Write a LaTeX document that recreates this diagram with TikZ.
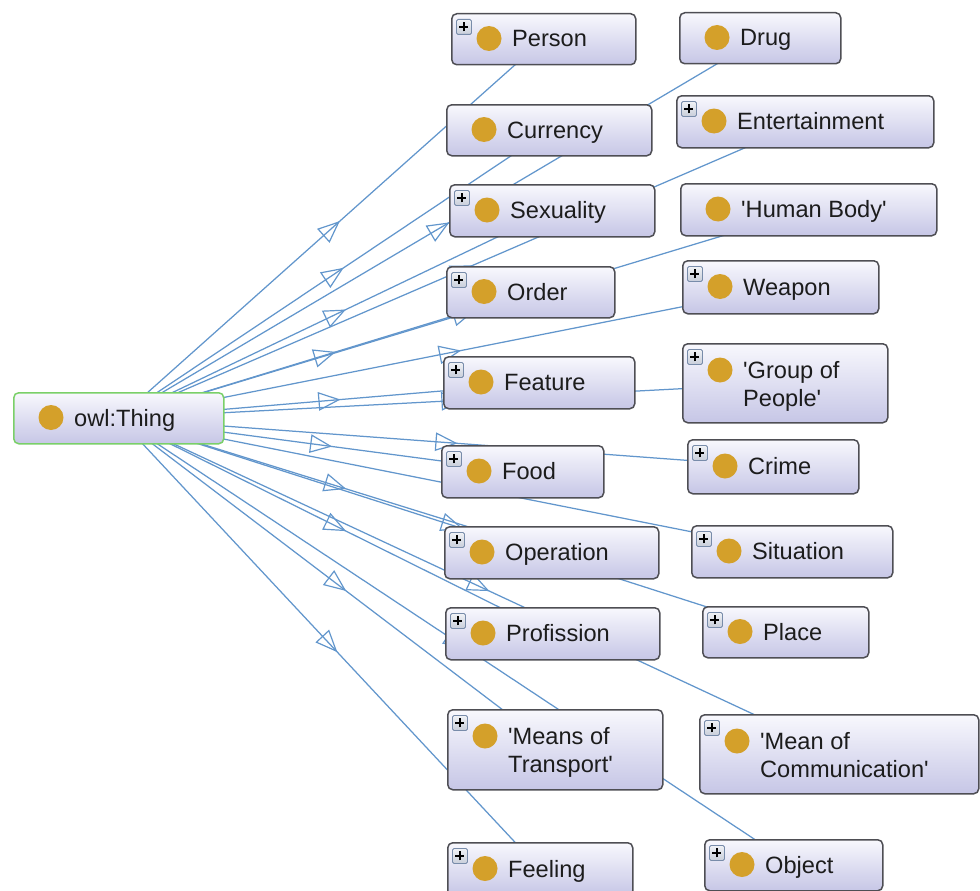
\documentclass[tikz,border=0pt]{standalone}
\usepackage{fontspec}
\setmainfont{Liberation Sans}
\usetikzlibrary{backgrounds,decorations.markings}

\definecolor{edgecol}{RGB}{98,150,204}
\definecolor{boxline}{RGB}{78,78,84}
\definecolor{rootline}{RGB}{122,208,104}
\definecolor{boxtop}{RGB}{248,248,253}
\definecolor{boxbot}{RGB}{198,198,230}
\definecolor{dotcol}{RGB}{212,160,42}
\definecolor{labelcol}{RGB}{28,28,28}
\definecolor{plusline}{RGB}{120,140,170}
\definecolor{plustop}{RGB}{240,242,246}
\definecolor{plusbot}{RGB}{200,206,218}

\tikzset{
  clsbox/.style={draw=boxline, line width=1.5pt, rounded corners=5pt,
    top color=boxtop, bottom color=boxbot, inner sep=0pt, anchor=north west},
  rootbox/.style={clsbox, draw=rootline},
  clsdot/.style={circle, fill=dotcol, minimum size=25pt, inner sep=0pt},
  clslabel/.style={font=\fontsize{23.6}{28}\selectfont, text=labelcol,
    inner sep=0pt, anchor=base west},
  expander/.style={draw=plusline, line width=0.9pt, top color=plustop,
    bottom color=plusbot, minimum size=15pt, inner sep=0pt, anchor=north west,
    rounded corners=1.5pt,
    path picture={
      \draw[black, line width=2pt]
        ([xshift=-4.5pt]path picture bounding box.center) --
        ([xshift=4.5pt]path picture bounding box.center)
        ([yshift=-4.5pt]path picture bounding box.center) --
        ([yshift=4.5pt]path picture bounding box.center);}},
  tri/.style={draw=edgecol, line width=1.2pt, line join=miter},
  isa/.style={draw=edgecol, line width=1.25pt, postaction={decorate},
    decoration={markings, mark=at position 0.5 with
      {\draw[tri] (10,0) -- (-10,8.5) -- (-10,-8.5) -- cycle;}}},
}

% class box with one line of text: name, x1, y1, x2, y2, expandable (1/0), label
\newcommand\clsone[7]{%
  \node[clsbox, minimum width={#4-#2}, minimum height={#5-#3}] (#1) at (#2,#3) {};
  \node[clsdot] (#1-dot) at ({#2+38},{(#3+#5)/2}) {};
  \node[clslabel] (#1-text) at ({#2+61},{(#3+#5)/2+8.5}) {#7};
  \ifnum#6=1 \node[expander] (#1-plus) at ({#2+5},{#3+6}) {};\fi
}
% class box with two lines of text
\newcommand\clstwo[8]{%
  \node[clsbox, minimum width={#4-#2}, minimum height={#5-#3}] (#1) at (#2,#3) {};
  \node[clsdot] (#1-dot) at ({#2+38},{#3+27}) {};
  \node[clslabel] (#1-texta) at ({#2+61},{#3+35}) {#7};
  \node[clslabel] (#1-textb) at ({#2+61},{#3+63}) {#8};
  \ifnum#6=1 \node[expander] (#1-plus) at ({#2+5},{#3+6}) {};\fi
}
\newcommand\sq{\textquotesingle}

\begin{document}
\begin{tikzpicture}[x=1pt, y=-1pt]
  \useasboundingbox (0,0) rectangle (980,891);
  \clip (0,0) rectangle (980,891);

  % root class
  \node[rootbox, minimum width=210, minimum height=51] (thing) at (13,392) {};
  \node[clsdot] (thing-dot) at (51,417.5) {};
  \node[clslabel] (thing-text) at (74,426) {owl:Thing};

  % first column of subclasses
  \clsone{person}{451}{13}{635}{64}{1}{Person}
  \clsone{currency}{446}{104}{651}{155}{0}{Currency}
  \clsone{sexuality}{449}{184}{654}{236}{1}{Sexuality}
  \clsone{order}{446}{266}{614}{317}{1}{Order}
  \clsone{feature}{443}{356}{634}{408}{1}{Feature}
  \clsone{food}{441}{445}{603}{497}{1}{Food}
  \clsone{operation}{444}{526}{658}{578}{1}{Operation}
  \clsone{profission}{445}{607}{659}{659}{1}{Profission}
  \clstwo{transport}{447}{709}{662}{789}{1}{\sq Means of}{Transport\sq}
  \clsone{feeling}{447}{842}{632}{895}{1}{Feeling}

  % second column of subclasses
  \clsone{drug}{679}{12}{840}{63}{0}{Drug}
  \clsone{entertainment}{676}{95}{933}{147}{1}{Entertainment}
  \clsone{humanbody}{680}{183}{936}{235}{0}{\sq Human Body\sq}
  \clsone{weapon}{682}{260}{878}{313}{1}{Weapon}
  \clstwo{group}{682}{343}{887}{422}{1}{\sq Group of}{People\sq}
  \clsone{crime}{687}{439}{858}{493}{1}{Crime}
  \clsone{situation}{691}{525}{892}{577}{1}{Situation}
  \clsone{place}{702}{606}{868}{657}{1}{Place}
  \clstwo{communication}{699}{714}{978}{793}{1}{\sq Mean of}{Communication\sq}
  \clsone{object}{704}{839}{882}{890}{1}{Object}

  % subclass links, running beneath the boxes
  \begin{scope}[on background layer]
    \foreach \c in {person,currency,sexuality,order,feature,food,operation,
                    profission,transport,feeling,drug,entertainment,humanbody,
                    weapon,group,crime,situation,place,communication,object}
      \draw[isa] (thing.center) -- (\c.center);
  \end{scope}
\end{tikzpicture}
\end{document}
